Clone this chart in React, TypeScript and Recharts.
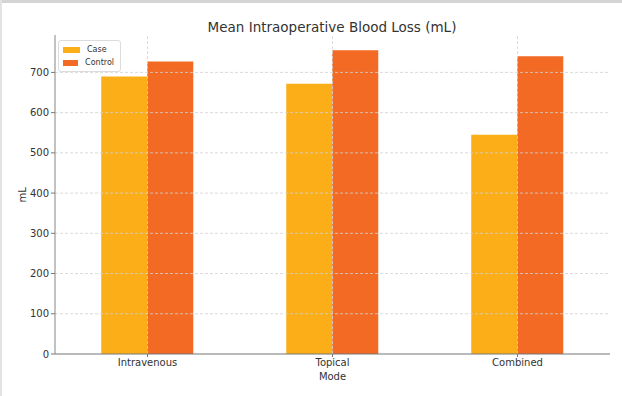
import { BarChart, Bar, XAxis, YAxis, ReferenceLine } from "recharts";

const modes = ["Intravenous", "Topical", "Combined"];
const caseLoss = [690, 672, 545];
const controlLoss = [727, 755, 740];
const yTicks = [0, 100, 200, 300, 400, 500, 600, 700];

const CASE_COLOR = "#fbae17";
const CONTROL_COLOR = "#f26a23";
const GRID = "#d2d2d2";
const FONT = "'DejaVu Sans', sans-serif";

const data = modes.map((mode, i) => ({
  mode,
  Case: caseLoss[i],
  Control: controlLoss[i],
}));

function LegendBox() {
  const items = [
    { name: "Case", color: CASE_COLOR },
    { name: "Control", color: CONTROL_COLOR },
  ];
  return (
    <div
      style={{
        position: "absolute",
        left: 58,
        top: 40,
        border: "1px solid #dcdcdc",
        borderRadius: 3,
        background: "rgba(255,255,255,0.85)",
        padding: "2px 6px 2px 4px",
        fontFamily: FONT,
        fontSize: 8,
        color: "#333",
        width: 51,
        zIndex: 2,
      }}
    >
      {items.map((it) => (
        <div
          key={it.name}
          style={{ display: "flex", alignItems: "center", height: 13 }}
        >
          <div
            style={{
              width: 17,
              height: 6,
              background: it.color,
              marginRight: 7,
            }}
          />
          <span>{it.name}</span>
        </div>
      ))}
    </div>
  );
}

export default function App() {
  return (
    <div
      style={{
        position: "absolute",
        left: 0,
        top: 0,
        width: 622,
        height: 396,
        background: "#fff",
        overflow: "hidden",
      }}
    >
      {/* screenshot frame strips */}
      <div style={{ position: "absolute", left: 0, top: 0, width: 622, height: 3, background: "#d4d4d4", zIndex: 3 }} />
      <div style={{ position: "absolute", left: 0, top: 0, width: 2, height: 396, background: "#e2e2e2", zIndex: 3 }} />
      <div
        style={{
          position: "absolute",
          left: 0,
          width: 622,
          top: 19,
          textAlign: "center",
          paddingLeft: 42,
          boxSizing: "border-box",
          fontFamily: FONT,
          fontSize: 13.5,
          color: "#333",
        }}
      >
        Mean Intraoperative Blood Loss (mL)
      </div>
      <BarChart
        width={622}
        height={396}
        data={data}
        margin={{ top: 35, right: 12, bottom: 8, left: 0 }}
        barCategoryGap="25%"
        barGap={0}
        style={{ position: "absolute", left: 0, top: 0 }}
      >
        <XAxis
          dataKey="mode"
          height={34}
          tickSize={3}
          tickMargin={2}
          axisLine={{ stroke: "#777", strokeWidth: 1.2 }}
          tickLine={{ stroke: "#777" }}
          tick={{ fill: "#333", fontSize: 10, fontFamily: FONT }}
          label={{
            value: "Mode",
            position: "insideBottom",
            offset: 8,
            fill: "#333",
            fontSize: 10,
            fontFamily: FONT,
          }}
        />
        <YAxis
          width={55}
          domain={[0, 793]}
          ticks={yTicks}
          allowDataOverflow
          tickSize={4}
          tickMargin={2}
          axisLine={{ stroke: "#999", strokeWidth: 1.2 }}
          tickLine={{ stroke: "#777" }}
          tick={{ fill: "#333", fontSize: 10, fontFamily: FONT }}
          label={{
            value: "mL",
            angle: -90,
            position: "insideLeft",
            offset: 22,
            dy: 8,
            fill: "#333",
            fontSize: 10,
            fontFamily: FONT,
          }}
        />
        {yTicks.slice(1).map((t) => (
          <ReferenceLine
            key={`h-${t}`}
            y={t}
            stroke={GRID}
            strokeDasharray="3 2"
            strokeWidth={0.8}
          />
        ))}
        {modes.map((m) => (
          <ReferenceLine
            key={`v-${m}`}
            x={m}
            stroke={GRID}
            strokeDasharray="3 2"
            strokeWidth={0.8}
          />
        ))}
        <Bar dataKey="Case" fill={CASE_COLOR} isAnimationActive={false} />
        <Bar dataKey="Control" fill={CONTROL_COLOR} isAnimationActive={false} />
      </BarChart>
      <LegendBox />
    </div>
  );
}
